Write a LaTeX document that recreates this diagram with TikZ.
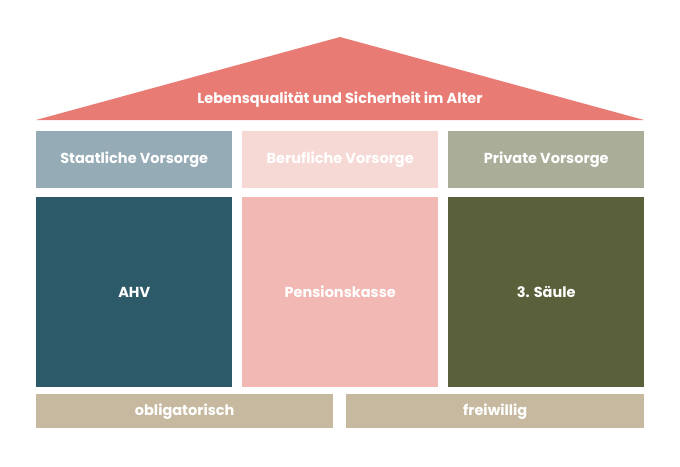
\documentclass[tikz,border=0pt]{standalone}
\usepackage{fontspec}
\setmainfont{Poppins}
\usetikzlibrary{positioning}
\definecolor{roofred}{HTML}{E87C74}
\definecolor{staatgray}{HTML}{95ABB5}
\definecolor{berufpink}{HTML}{F6D9D5}
\definecolor{privgray}{HTML}{AAAE99}
\definecolor{ahvblue}{HTML}{2D5A69}
\definecolor{pkpink}{HTML}{F2B8B3}
\definecolor{saeulegreen}{HTML}{5A613A}
\definecolor{basebeige}{HTML}{C6B99F}

\begin{document}
\begin{tikzpicture}
[x=1pt,y=-1pt,
  boxdecorate/.style={shape=rectangle,inner sep=0pt,anchor=north west,
    text=white,font=\bfseries\fontsize{14.5}{16}\selectfont},
  roofdecorate/.style={fill=roofred,draw=none}]
\useasboundingbox (0,0) rectangle (680,466);
%% roof
\fill[roofdecorate] (36,120) -- (340,37) -- (644,120) -- cycle;
\node (roof) at (340,100) [text=white,font=\bfseries\fontsize{14.5}{16}\selectfont] {Lebensqualität und Sicherheit im Alter};
%% pillars, heads and bodies
\foreach \nodename/\x/\headcol/\headtext/\bodycol/\bodytext in {
  staat/36/staatgray/Staatliche Vorsorge/ahvblue/AHV,
  beruf/242/berufpink/Berufliche Vorsorge/pkpink/Pensionskasse,
  privat/448/privgray/Private Vorsorge/saeulegreen/3. Säule}
{
  \node (\nodename head) at (\x,131) [boxdecorate,fill=\headcol,
    minimum width=196pt,minimum height=57pt] {\headtext};
  \node (\nodename body) at (\x,197) [boxdecorate,fill=\bodycol,
    minimum width=196pt,minimum height=190pt] {\bodytext};
}
%% foundation
\foreach \nodename/\x/\w/\basetext in {
  oblig/36/297/obligatorisch, frei/346/298/freiwillig}
{
  \node (\nodename) at (\x,394) [boxdecorate,fill=basebeige,
    minimum width=\w pt,minimum height=34pt] {\basetext};
}
\end{tikzpicture}
\end{document}
